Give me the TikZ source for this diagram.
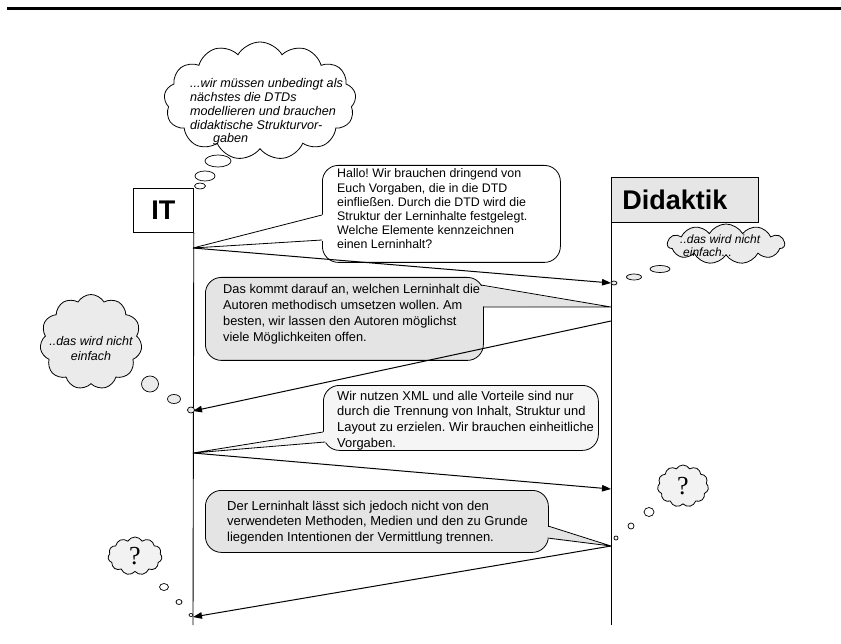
\documentclass[tikz,border=0pt]{standalone}
\usepackage{fontspec}
\setmainfont{Liberation Sans}
\newfontfamily\serifq{Liberation Serif}
\usetikzlibrary{shapes.symbols,shapes.geometric,arrows.meta,calc}
\definecolor{gbub}{HTML}{E4E4E4}
\definecolor{gbubl}{HTML}{F5F5F5}
\definecolor{gcl}{HTML}{EBEBEB}
\definecolor{gq}{HTML}{F2F2F2}
\definecolor{gbox}{HTML}{E6E6E6}
\frenchspacing
\begin{document}
\begin{tikzpicture}[x=1pt,y=-1pt,
  lbox/.style={draw, line width=0.8pt, inner sep=0pt, anchor=north west, font=\bfseries\fontsize{27}{30}\selectfont},
  bubble/.style={draw, line width=0.8pt, rounded corners=16pt, inner sep=0pt, anchor=north west},
  btext/.style={inner sep=0pt, anchor=base west},
  thought/.style={cloud, cloud puffs=11, cloud puff arc=120, cloud ignores aspect, draw, line width=0.8pt, inner sep=0pt},
  tb/.style={ellipse, draw, line width=0.7pt, inner sep=0pt},
  msg/.style={line width=1pt, -{Triangle[length=9pt,width=6.5pt]}},
  life/.style={line width=0.9pt},
  wedge/.style={line width=0.8pt, line join=miter},
]
\useasboundingbox (0,0) rectangle (841,644);
% top rule
\coordinate (r1) at (7,8.5);
\coordinate (r2) at (841,8.5);
\draw[line width=2.2pt] (r1) -- (r2);

% actor boxes and lifelines
\node[lbox, fill=white, minimum width=60pt, minimum height=44pt] (it) at (133,188) {IT};
\node[lbox, fill=gbox, minimum width=147pt, minimum height=45pt, text width=125pt, inner xsep=11pt, align=left] (di) at (611,177) {Didaktik};
\coordinate (itEnd) at (193,625);
\coordinate (diEnd) at (611,625);
\draw[life] (it.south east) -- (itEnd);
\draw[life] (di.south west) -- (diEnd);

% lifeline message points
\coordinate (t1) at (193,248);
\coordinate (a1e) at (611,283);
\coordinate (a2s) at (611,321);
\coordinate (a2e) at (193,411);
\coordinate (t3) at (193,453);
\coordinate (a3e) at (611,489);
\coordinate (t4) at (611,546);
\coordinate (a4e) at (193,617);
\coordinate (t2) at (611,307);

% top thought cloud
\node[thought, cloud puffs=13, fill=white, minimum width=192pt, minimum height=118pt] (c1) at (260,101) {};
\node[btext, font=\itshape] (c1t) at (190,88) {\parbox[t]{170pt}{\fontsize{12.6}{13.7}\selectfont ...wir müssen unbedingt als\\nächstes die DTDs\\modellieren und brauchen\\didaktische Strukturvor-\\\hspace*{23pt}gaben}};
\node[tb, fill=white, minimum width=26pt, minimum height=12pt] (c1a) at (218,161) {};
\node[tb, fill=white, minimum width=20pt, minimum height=10pt] (c1b) at (205,176) {};
\node[tb, fill=white, minimum width=11pt, minimum height=6pt] (c1c) at (200,186) {};

% bubble 1
\node[bubble, fill=white, minimum width=238pt, minimum height=97pt] (b1) at (322,165) {};
\fill[white] (324,214.3) -- (t1) -- (324,240.7) -- cycle;
\draw[wedge] (322,215) -- (t1) -- (322,240);
\node[btext] (b1t) at (337,178) {\parbox[t]{230pt}{\fontsize{12.4}{14.2}\selectfont Hallo! Wir brauchen dringend von\\Euch Vorgaben, die in die DTD\\einfließen. Durch die DTD wird die\\Struktur der Lerninhalte festgelegt.\\Welche Elemente kennzeichnen\\einen Lerninhalt?}};

% arrow 1
\draw[msg] (t1) -- (a1e);

% Didaktik cloud
\node[thought, fill=gcl, minimum width=117pt, minimum height=40pt] (c2) at (726,244) {};
\node[btext, font=\itshape] (c2t) at (680,244) {\parbox[t]{100pt}{\fontsize{12}{12.5}\selectfont ..das wird nicht\\\hspace*{3pt}einfach...}};
\node[tb, fill=gcl, minimum width=20pt, minimum height=7pt] (c2a) at (660,269) {};
\node[tb, fill=gcl, minimum width=15pt, minimum height=6pt] (c2b) at (634,277) {};
\node[tb, fill=gcl, minimum width=6pt, minimum height=4pt] (c2c) at (614,283) {};

% bubble 2
\node[bubble, fill=gbub, minimum width=278pt, minimum height=83pt] (b2) at (205,277) {};
\fill[gbub] (478,285.6) -- (t2) -- (478,306.6) -- cycle;
\draw[wedge] (480.9,285) -- (t2) -- (483,307);
\node[btext] (b2t) at (223,294) {\parbox[t]{270pt}{\fontsize{12.8}{16}\selectfont Das kommt darauf an, welchen Lerninhalt die\\Autoren methodisch umsetzen wollen. Am\\besten, wir lassen den Autoren möglichst\\viele Möglichkeiten offen.}};

% arrow 2
\draw[msg] (a2s) -- (a2e);

% left cloud
\node[thought, fill=gcl, minimum width=102pt, minimum height=95pt] (c3) at (91,342) {};
\node[inner sep=0pt, anchor=base, font=\itshape] (c3t) at (91,345) {\parbox[t]{100pt}{\centering\fontsize{12.5}{15}\selectfont ..das wird nicht\\einfach}};
\node[tb, fill=gcl, minimum width=17pt, minimum height=16pt] (c3a) at (150,384) {};
\node[tb, fill=gcl, minimum width=13pt, minimum height=9pt] (c3b) at (174,399) {};
\node[tb, fill=gcl, minimum width=7pt, minimum height=6pt] (c3c) at (191,410) {};

% bubble 3
\node[bubble, fill=gbubl, minimum width=275pt, minimum height=65pt] (b3) at (323,385) {};
\fill[gbubl] (326,431.4) -- (t3) -- (326,442.6) -- cycle;
\draw[wedge] (323,432) -- (t3) -- (325.1,442);
\node[btext] (b3t) at (337,400) {\parbox[t]{270pt}{\fontsize{12.9}{15.7}\selectfont Wir nutzen XML und alle Vorteile sind nur\\durch die Trennung von Inhalt, Struktur und\\Layout zu erzielen. Wir brauchen einheitliche\\Vorgaben.}};

% arrow 3
\draw[msg] (t3) -- (a3e);

% right question cloud
\node[thought, fill=gq, minimum width=51pt, minimum height=42pt, font=\serifq\fontsize{26}{26}\selectfont] (c4) at (683,486) {?};
\node[tb, fill=white, minimum width=10pt, minimum height=9pt] (c4a) at (649,512) {};
\node[tb, fill=white, minimum width=6pt, minimum height=6pt] (c4b) at (631,526) {};
\node[tb, fill=white, minimum width=4pt, minimum height=4pt] (c4c) at (616,538) {};

% bubble 4
\node[bubble, fill=gbub, minimum width=343pt, minimum height=62pt] (b4) at (205,490) {};
\fill[gbub] (545,525.8) -- (t4) -- (545,538.5) -- cycle;
\draw[wedge] (548,526) -- (t4) -- (547.5,538);
\node[btext] (b4t) at (227,510) {\parbox[t]{330pt}{\fontsize{13}{15.5}\selectfont Der Lerninhalt lässt sich jedoch nicht von den\\verwendeten Methoden, Medien und den zu Grunde\\liegenden Intentionen der Vermittlung trennen.}};

% arrow 4
\draw[msg] (t4) -- (a4e);

% left question cloud
\node[thought, fill=gq, minimum width=54pt, minimum height=38pt, font=\serifq\fontsize{26}{26}\selectfont] (c5) at (135,556) {?};
\node[tb, fill=white, minimum width=9pt, minimum height=7pt] (c5a) at (164,587) {};
\node[tb, fill=white, minimum width=6pt, minimum height=5pt] (c5b) at (179,602) {};
\node[tb, fill=white, minimum width=4pt, minimum height=3pt] (c5c) at (191,615) {};
\end{tikzpicture}
\end{document}
